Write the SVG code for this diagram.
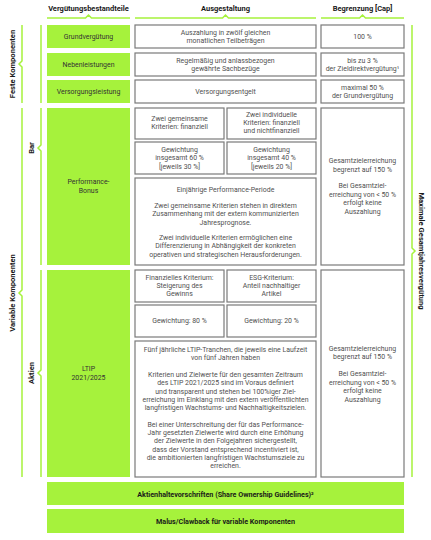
<svg xmlns="http://www.w3.org/2000/svg" width="431" height="540" viewBox="0 0 431 540">
<style>
text{font-family:Roboto,"Liberation Sans",sans-serif;font-size:6.95px;fill:#505050;text-anchor:middle;dominant-baseline:central}
.h{font-weight:bold;fill:#1a1a1a;font-size:7.5px}
.g{fill:#a6f23c}
.w{fill:#fff;stroke:#7a7a7a;stroke-width:1.2}
.gt{fill:#333}
.b{fill:none;stroke:#a6f23c;stroke-width:1.5}
.bb{font-weight:bold;fill:#1a1a1a;font-size:7.2px}
.sl{font-weight:bold;fill:#1a1a1a;font-size:7.6px}
</style>
<rect width="431" height="540" fill="#fff"/>
<g id="headers">
<text class="h" x="88.5" y="8">Vergütungsbestandteile</text>
<text class="h" x="225.5" y="8">Ausgestaltung</text>
<text class="h" x="362.5" y="8">Begrenzung [Cap]</text>
</g>
<g id="connectors">
<path class="b" d="M47 18H85.5L88.5 15L91.5 18H130"/>
<path class="b" d="M135 18H222.5L225.5 15L228.5 18H316"/>
<path class="b" d="M321 18H359.5L362.5 15L365.5 18H404"/>
<path class="b" d="M22 25V61L19 64L22 67V103"/>
<path class="b" d="M41 25V103"/>
<path class="b" d="M22 108V290L19 293L22 296V477"/>
<path class="b" d="M41 108V145L38 148L41 151V265"/>
<path class="b" d="M41 270V370L38 373L41 376V477"/>
<path class="b" d="M412 25V248L415 251L412 254V477"/>
</g>
<g id="side-labels">
<text class="sl" transform="translate(12 64) rotate(-90)">Feste Komponenten</text>
<text class="sl" transform="translate(12 293) rotate(-90)">Variable Komponenten</text>
<text class="sl" transform="translate(31 148) rotate(-90)">Bar</text>
<text class="sl" transform="translate(31 373) rotate(-90)">Aktien</text>
<text class="sl" transform="translate(421 251) rotate(90)">Maximale Gesamtjahresvergütung</text>
</g>
<g id="grundverguetung">
<rect class="g" x="47" y="25" width="83" height="23"/>
<text class="gt" x="88.5" y="36.5">Grundvergütung</text>
<rect class="w" x="135" y="25" width="181" height="23"/>
<text x="225.5" y="32.5">Auszahlung in zwölf gleichen</text>
<text x="225.5" y="40.5">monatlichen Teilbeträgen</text>
<rect class="w" x="321" y="25" width="83" height="23"/>
<text x="362.5" y="36.5">100 %</text>
</g>
<g id="nebenleistungen">
<rect class="g" x="47" y="53" width="83" height="23"/>
<text class="gt" x="88.5" y="64.5">Nebenleistungen</text>
<rect class="w" x="135" y="53" width="181" height="23"/>
<text x="225.5" y="60.5">Regelmäßig und anlassbezogen</text>
<text x="225.5" y="68.5">gewährte Sachbezüge</text>
<rect class="w" x="321" y="53" width="83" height="23"/>
<text x="362.5" y="60.5">bis zu 3 %</text>
<text x="362.5" y="68.5">der Zieldirektvergütung¹</text>
</g>
<g id="versorgungsleistung">
<rect class="g" x="47" y="80" width="83" height="23"/>
<text class="gt" x="88.5" y="91.5">Versorgungsleistung</text>
<rect class="w" x="135" y="80" width="181" height="23"/>
<text x="225.5" y="91.5">Versorgungsentgelt</text>
<rect class="w" x="321" y="80" width="83" height="23"/>
<text x="362.5" y="87.5">maximal 50 %</text>
<text x="362.5" y="95.5">der Grundvergütung</text>
</g>
<g id="performance-bonus">
<rect class="g" x="47" y="108" width="83" height="157"/>
<text class="gt" x="88.5" y="182">Performance-</text>
<text class="gt" x="88.5" y="190.5">Bonus</text>
<rect class="w" x="135" y="108" width="89" height="31"/>
<text x="179.5" y="119">Zwei gemeinsame</text>
<text x="179.5" y="127">Kriterien: finanziell</text>
<rect class="w" x="227" y="108" width="89" height="31"/>
<text x="271.5" y="114.5">Zwei individuelle</text>
<text x="271.5" y="122.8">Kriterien: finanziell</text>
<text x="271.5" y="131.1">und nichtfinanziell</text>
<rect class="w" x="135" y="142" width="89" height="32"/>
<text x="179.5" y="150">Gewichtung</text>
<text x="179.5" y="158.3">insgesamt 60 %</text>
<text x="179.5" y="166.6">[jeweils 30 %]</text>
<rect class="w" x="227" y="142" width="89" height="32"/>
<text x="271.5" y="150">Gewichtung</text>
<text x="271.5" y="158.3">insgesamt 40 %</text>
<text x="271.5" y="166.6">[jeweils 20 %]</text>
<rect class="w" x="135" y="178" width="181" height="87"/>
<text x="225.5" y="189.5">Einjährige Performance-Periode</text>
<text x="225.5" y="206">Zwei gemeinsame Kriterien stehen in direktem</text>
<text x="225.5" y="214.3">Zusammenhang mit der extern kommunizierten</text>
<text x="225.5" y="222.6">Jahresprognose.</text>
<text x="225.5" y="238">Zwei individuelle Kriterien ermöglichen eine</text>
<text x="225.5" y="246.3">Differenzierung in Abhängigkeit der konkreten</text>
<text x="225.5" y="254.6">operativen und strategischen Herausforderungen.</text>
<rect class="w" x="321" y="108" width="83" height="157"/>
<text x="362.5" y="161">Gesamtzielerreichung</text>
<text x="362.5" y="169.5">begrenzt auf 150 %</text>
<text x="362.5" y="186">Bei Gesamtziel-</text>
<text x="362.5" y="194.5">erreichung von &lt; 50 %</text>
<text x="362.5" y="203">erfolgt keine</text>
<text x="362.5" y="211.5">Auszahlung</text>
</g>
<g id="ltip">
<rect class="g" x="47" y="270" width="83" height="207"/>
<text class="gt" x="88.5" y="369">LTIP</text>
<text class="gt" x="88.5" y="377.5">2021/2025</text>
<rect class="w" x="135" y="270" width="89" height="32"/>
<text x="179.5" y="277.5">Finanzielles Kriterium:</text>
<text x="179.5" y="285.8">Steigerung des</text>
<text x="179.5" y="294.1">Gewinns</text>
<rect class="w" x="227" y="270" width="89" height="32"/>
<text x="271.5" y="277.5">ESG-Kriterium:</text>
<text x="271.5" y="285.8">Anteil nachhaltiger</text>
<text x="271.5" y="294.1">Artikel</text>
<rect class="w" x="135" y="305" width="89" height="32"/>
<text x="179.5" y="321">Gewichtung: 80 %</text>
<rect class="w" x="227" y="305" width="89" height="32"/>
<text x="271.5" y="321">Gewichtung: 20 %</text>
<rect class="w" x="135" y="341" width="181" height="136"/>
<text x="225.5" y="350">Fünf jährliche LTIP-Tranchen, die jeweils eine Laufzeit</text>
<text x="225.5" y="358.3">von fünf Jahren haben</text>
<text x="225.5" y="375">Kriterien und Zielwerte für den gesamten Zeitraum</text>
<text x="225.5" y="383.3">des LTIP 2021/2025 sind im Voraus definiert</text>
<text x="225.5" y="391.6">und transparent und stehen bei 100%iger Ziel-</text>
<text x="225.5" y="399.9">erreichung im Einklang mit den extern veröffentlichten</text>
<text x="225.5" y="408.2">langfristigen Wachstums- und Nachhaltigkeitszielen.</text>
<text x="225.5" y="424.8">Bei einer Unterschreitung der für das Performance-</text>
<text x="225.5" y="433.1">Jahr gesetzten Zielwerte wird durch eine Erhöhung</text>
<text x="225.5" y="441.4">der Zielwerte in den Folgejahren sichergestellt,</text>
<text x="225.5" y="449.7">dass der Vorstand entsprechend incentiviert ist,</text>
<text x="225.5" y="458">die ambitionierten langfristigen Wachstumsziele zu</text>
<text x="225.5" y="466.3">erreichen.</text>
<rect class="w" x="321" y="270" width="83" height="207"/>
<text x="362.5" y="348.5">Gesamtzielerreichung</text>
<text x="362.5" y="357">begrenzt auf 150 %</text>
<text x="362.5" y="374">Bei Gesamtziel-</text>
<text x="362.5" y="382.5">erreichung von &lt; 50 %</text>
<text x="362.5" y="391">erfolgt keine</text>
<text x="362.5" y="399.5">Auszahlung</text>
</g>
<g id="aktienhaltevorschriften">
<rect class="g" x="47" y="482" width="357" height="23"/>
<text class="bb" x="225.5" y="494">Aktienhaltevorschriften (Share Ownership Guidelines)²</text>
</g>
<g id="malus-clawback">
<rect class="g" x="47" y="509" width="357" height="24"/>
<text class="bb" x="225.5" y="521.5">Malus/Clawback für variable Komponenten</text>
</g>
</svg>
